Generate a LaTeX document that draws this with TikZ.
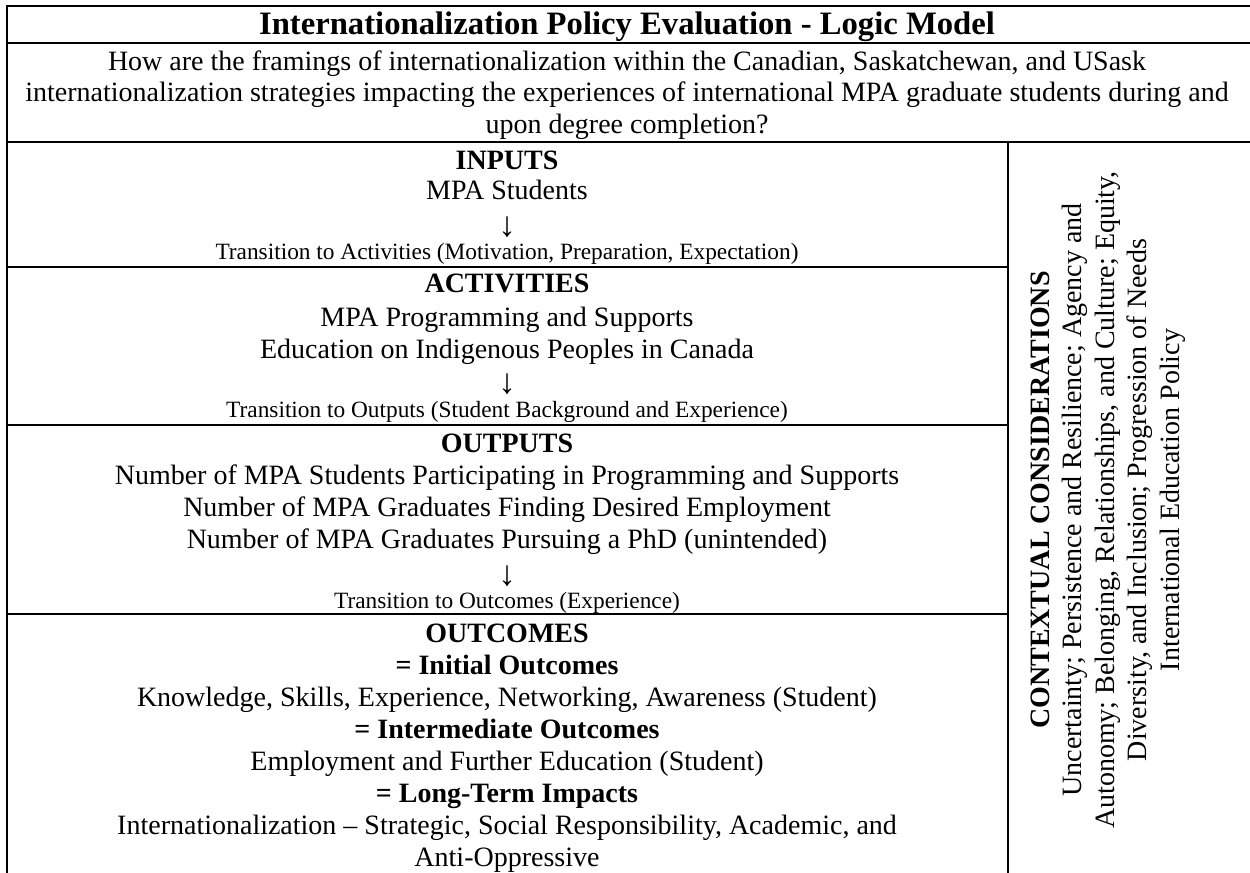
\documentclass[tikz,border=0pt]{standalone}
\usepackage{fontspec}
\setmainfont{Liberation Serif}
\usetikzlibrary{positioning}

\tikzset{
	txt/.style={anchor=base, inner sep=0pt, font=\fontsize{12}{13.8}\selectfont},
	hd/.style={txt, font=\fontsize{12}{13.8}\selectfont\bfseries},
	ttl/.style={txt, font=\fontsize{14}{16}\selectfont\bfseries},
	trans/.style={txt, font=\fontsize{10}{12}\selectfont},
	arr/.style={anchor=center, inner sep=0pt, font=\fontsize{15}{17}\selectfont},
	side/.style={rotate=90, align=center, inner sep=0pt, font=\fontsize{12}{13.9}\selectfont},
}

\begin{document}
\begin{tikzpicture}[x=0.4286pt, y=-0.4286pt, line width=0.9pt]

	\useasboundingbox (0,0) rectangle (1250,873);

	% table rules
	\draw (1250,6) -- (7,6) -- (7,873);
	\draw (7,43) -- (1250,43);
	\draw (7,142) -- (1250,142);
	\draw (1008,142) -- (1008,873);
	\draw (7,267) -- (1008,267);
	\draw (7,425) -- (1008,425);
	\draw (7,614) -- (1008,614);

	% title and question
	\node[ttl] (title) at (627,35) {Internationalization Policy Evaluation - Logic Model};
	\node[txt] (q1) at (627,71) {How are the framings of internationalization within the Canadian, Saskatchewan, and USask};
	\node[txt] (q2) at (627,102) {internationalization strategies impacting the experiences of international MPA graduate students during and};
	\node[txt] (q3) at (627,134) {upon degree completion?};

	% inputs
	\node[hd] (inputs) at (507,170) {INPUTS};
	\node[txt] (students) at (507,200) {MPA Students};
	\node[arr] (arrA) at (507,227) {↓};
	\node[trans] (toAct) at (507,260) {Transition to Activities (Motivation, Preparation, Expectation)};

	% activities
	\node[hd] (activities) at (507,293) {ACTIVITIES};
	\node[txt] (prog) at (507,326) {MPA Programming and Supports};
	\node[txt] (indig) at (507,358) {Education on Indigenous Peoples in Canada};
	\node[arr] (arrB) at (507,384) {↓};
	\node[trans] (toOut) at (507,417) {Transition to Outputs (Student Background and Experience)};

	% outputs
	\node[hd] (outputs) at (507,452) {OUTPUTS};
	\node[txt] (num1) at (507,484) {Number of MPA Students Participating in Programming and Supports};
	\node[txt] (num2) at (507,516) {Number of MPA Graduates Finding Desired Employment};
	\node[txt] (num3) at (507,548) {Number of MPA Graduates Pursuing a PhD (unintended)};
	\node[arr] (arrC) at (507,576) {↓};
	\node[trans] (toOutc) at (507,608) {Transition to Outcomes (Experience)};

	% outcomes
	\node[hd] (outcomes) at (507,642) {OUTCOMES};
	\node[hd] (initial) at (507,674) {= Initial Outcomes};
	\node[txt] (know) at (507,706) {Knowledge, Skills, Experience, Networking, Awareness (Student)};
	\node[hd] (inter) at (507,738) {= Intermediate Outcomes};
	\node[txt] (employ) at (507,770) {Employment and Further Education (Student)};
	\node[hd] (longterm) at (507,802) {= Long-Term Impacts};
	\node[txt] (intl1) at (507,834) {Internationalization – Strategic, Social Responsibility, Academic, and};
	\node[txt] (intl2) at (507,866) {Anti-Oppressive};

	% contextual considerations
	\node[side] (context) at (1108,500) {\textbf{CONTEXTUAL CONSIDERATIONS}\\
		Uncertainty; Persistence and Resilience; Agency and\\
		Autonomy; Belonging, Relationships, and Culture; Equity,\\
		Diversity, and Inclusion; Progression of Needs\\
		International Education Policy};

\end{tikzpicture}
\end{document}
